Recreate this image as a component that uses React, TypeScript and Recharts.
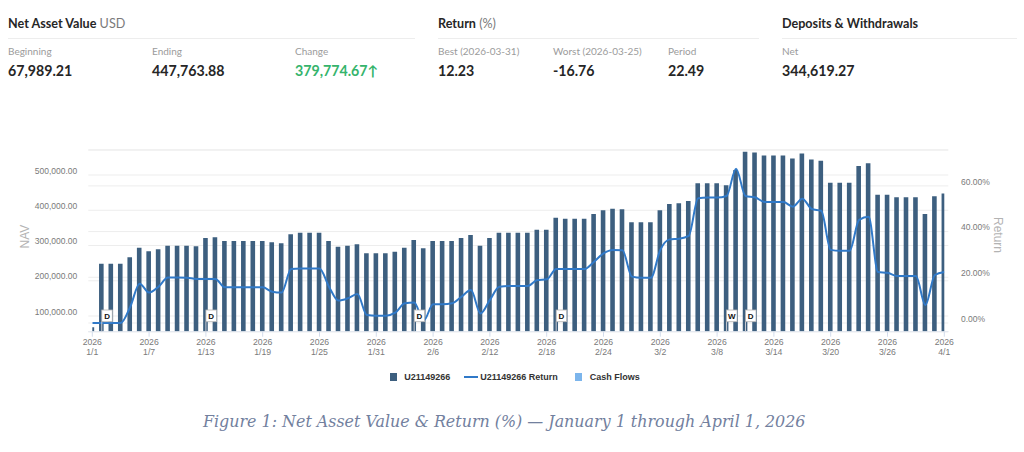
import React from 'react';
import { ComposedChart, Bar, Line, Scatter, XAxis, YAxis, CartesianGrid, Legend } from 'recharts';

const dates: string[] = [
  '1/1','1/2','1/3','1/4','1/5','1/6','1/7','1/8','1/9','1/10','1/11','1/12','1/13','1/14','1/15','1/16',
  '1/17','1/18','1/19','1/20','1/21','1/22','1/23','1/24','1/25','1/26','1/27','1/28','1/29','1/30','1/31',
  '2/1','2/2','2/3','2/4','2/5','2/6','2/7','2/8','2/9','2/10','2/11','2/12','2/13','2/14','2/15','2/16',
  '2/17','2/18','2/19','2/20','2/21','2/22','2/23','2/24','2/25','2/26','2/27','2/28',
  '3/1','3/2','3/3','3/4','3/5','3/6','3/7','3/8','3/9','3/10','3/11','3/12','3/13','3/14','3/15','3/16',
  '3/17','3/18','3/19','3/20','3/21','3/22','3/23','3/24','3/25','3/26','3/27','3/28','3/29','3/30','3/31','4/1',
];

const navValues: number[] = [
  67989.21, 248400, 248400, 248400, 266500, 293800, 283500, 289200, 299600, 299600,
  299600, 297700, 321300, 323200, 312800, 312800, 312800, 312800, 312800, 309000,
  306200, 331700, 336400, 336400, 336400, 312800, 296600, 299600, 303400, 277800,
  277800, 277800, 282500, 293800, 315600, 292000, 312800, 312800, 312800, 321300,
  329800, 299600, 321300, 336400, 336400, 336400, 336400, 344900, 344900, 378900,
  376100, 376100, 376100, 389400, 399800, 404500, 402600, 365700, 365700, 365700,
  399800, 417700, 419600, 426200, 476400, 476400, 476400, 470700, 514000, 566100,
  564200, 555700, 555700, 555700, 547200, 561400, 544400, 540600, 478300, 478300,
  478300, 525500, 533100, 444200, 444200, 436600, 436600, 436600, 389400, 439500,
  447763.88,
];

const returnValues: number[] = [
  0, 0, 0, 0, 7, 17.2, 13.3, 15.9, 19.9, 19.9,
  19.8, 19.3, 19.3, 19.3, 15.6, 15.6, 15.6, 15.6, 15.6, 13.7,
  13.3, 23.6, 23.9, 23.9, 23.9, 15.9, 9.8, 10.8, 12.7, 3.5,
  3.2, 3.2, 4.5, 8.6, 9.0, 1.0, 8.2, 8.2, 8.6, 11.5,
  14.4, 4.2, 10.1, 15.9, 16.2, 16.2, 16.2, 18.8, 19.1, 23.6,
  23.6, 23.6, 23.6, 26.8, 30.5, 32.0, 31.8, 20.3, 19.8, 19.8,
  32.0, 36.6, 36.9, 38.1, 54.6, 54.9, 54.9, 55.6, 67.5, 55.6,
  55.0, 53.0, 52.9, 52.9, 50.9, 54.4, 49.9, 49.1, 32.0, 31.6,
  31.6, 45.1, 46.5, 22.3, 22.0, 20.6, 20.6, 20.6, 7.9, 21.0,
  22.3,
];

const tickDates: string[] = ['1/1','1/7','1/13','1/19','1/25','1/31','2/6','2/12','2/18','2/24','3/2','3/8','3/14','3/20','3/26','4/1'];
const navTicks: number[] = [100000, 200000, 300000, 400000, 500000];
const returnTicks: number[] = [0, 20, 40, 60];

const flagDates: string[] = ['1/2', '1/13', '2/4', '2/19', '3/9', '3/11'];
const flagCodes: string[] = ['D', 'D', 'D', 'D', 'W', 'D'];

const legendNames: string[] = ['U21149266', 'U21149266 Return', 'Cash Flows'];

const NAV_COLOR = '#3d5f7f';
const LINE_COLOR = '#3079c8';
const FLOW_COLOR = '#7cb5ec';

const data = dates.map((d, i) => ({ x: i, date: d, nav: navValues[i], ret: returnValues[i] }));
const flagData = flagDates.map((d, i) => ({ x: dates.indexOf(d), y: 0, code: flagCodes[i] }));
const xTicks = tickDates.map((d) => dates.indexOf(d));

const tickFont = '"Liberation Sans", Arial, Helvetica, sans-serif';
const headFont = 'Lato, "Open Sans", sans-serif';

const LeftTick = (props: any) => {
  const { x, y, payload } = props;
  return (
    <text x={x} y={y - 1.3} textAnchor="end" fontSize={8.5} fill="#7a7a7a" fontFamily={tickFont}>
      {payload.value.toLocaleString('en-US', { minimumFractionDigits: 2, maximumFractionDigits: 2 })}
    </text>
  );
};

const RightTick = (props: any) => {
  const { x, y, payload } = props;
  return (
    <text x={x} y={y - 1.3} textAnchor="start" fontSize={8.5} fill="#7a7a7a" fontFamily={tickFont}>
      {payload.value.toFixed(2) + '%'}
    </text>
  );
};

const XTick = (props: any) => {
  const { x, y, payload } = props;
  return (
    <text x={x} y={y} textAnchor="middle" fontSize={8.7} fill="#7a7a7a" fontFamily={tickFont}>
      <tspan x={x} dy={7}>2026</tspan>
      <tspan x={x} dy={10.6}>{dates[payload.value]}</tspan>
    </text>
  );
};

const FlagShape = (props: any) => {
  const { cx, cy, payload } = props;
  const top = cy - 21.7;
  return (
    <g>
      <line x1={cx} y1={cy - 10} x2={cx} y2={cy} stroke="#c8ccd4" strokeWidth={1} />
      <rect x={cx} y={top} width={10.5} height={11.7} fill="#ffffff" stroke="#b4b4b4" strokeWidth={0.8} />
      <text x={cx + 5.25} y={top + 9} textAnchor="middle" fontSize={8} fontWeight="bold" fill="#111" fontFamily={tickFont}>
        {payload.code}
      </text>
    </g>
  );
};

const renderLegend = () => (
  <div
    style={{
      display: 'flex',
      justifyContent: 'center',
      alignItems: 'center',
      height: 14,
      paddingLeft: 0,
      fontFamily: tickFont,
      fontSize: 9,
      fontWeight: 'bold',
      color: '#333',
    }}
  >
    <div style={{ display: 'flex', alignItems: 'center', marginLeft: 6 }}>
      <span style={{ display: 'inline-block', width: 7, height: 7.5, background: NAV_COLOR, marginRight: 7 }} />
      <span>{legendNames[0]}</span>
    </div>
    <div style={{ display: 'flex', alignItems: 'center', marginLeft: 14 }}>
      <span style={{ display: 'inline-block', width: 13.5, height: 2, background: LINE_COLOR, marginRight: 2.5 }} />
      <span>{legendNames[1]}</span>
    </div>
    <div style={{ display: 'flex', alignItems: 'center', marginLeft: 17 }}>
      <span style={{ display: 'inline-block', width: 7.5, height: 7.5, background: FLOW_COLOR, marginRight: 7.5 }} />
      <span>{legendNames[2]}</span>
    </div>
  </div>
);

const Label = ({ text, left }: { text: string; left: number }) => (
  <div style={{ position: 'absolute', left, top: 44.5, fontFamily: headFont, fontSize: 10, lineHeight: '13px', color: '#9b9b9b', whiteSpace: 'nowrap' }}>
    {text}
  </div>
);

const Value = ({ text, left, color }: { text: string; left: number; color?: string }) => (
  <div
    style={{
      position: 'absolute',
      left,
      top: 60.5,
      fontFamily: headFont,
      fontSize: 14.2,
      fontWeight: 700,
      lineHeight: '19px',
      color: color || '#262626',
      whiteSpace: 'nowrap',
    }}
  >
    {text}
  </div>
);

const Title = ({ main, sub, left }: { main: string; sub?: string; left: number }) => (
  <div
    style={{
      position: 'absolute',
      left,
      top: 15,
      fontFamily: headFont,
      fontSize: 12.6,
      fontWeight: 700,
      lineHeight: '18px',
      color: '#262626',
      whiteSpace: 'nowrap',
    }}
  >
    {main}
    {sub ? <span style={{ fontWeight: 400, color: '#7a7a7a' }}>{' ' + sub}</span> : null}
  </div>
);

const Divider = ({ left, width }: { left: number; width: number }) => (
  <div style={{ position: 'absolute', left, top: 38, width, height: 1, background: '#ededed' }} />
);

export default function App() {
  return (
    <div style={{ position: 'absolute', left: 0, top: 0, width: 1024, height: 452, background: '#fff', overflow: 'hidden' }}>
      <Title main="Net Asset Value" sub="USD" left={8} />
      <Title main="Return" sub="(%)" left={438} />
      <Title main="Deposits & Withdrawals" left={782} />
      <Divider left={8} width={407} />
      <Divider left={438} width={321} />
      <Divider left={782} width={235} />

      <Label text="Beginning" left={8} />
      <Label text="Ending" left={152} />
      <Label text="Change" left={295} />
      <Label text="Best (2026-03-31)" left={438} />
      <Label text="Worst (2026-03-25)" left={553} />
      <Label text="Period" left={668} />
      <Label text="Net" left={782} />

      <Value text="67,989.21" left={8} />
      <Value text="447,763.88" left={152} />
      <Value text={'379,774.67\u2191'} left={295} color="#35b46c" />
      <Value text="12.23" left={438} />
      <Value text="-16.76" left={553} />
      <Value text="22.49" left={668} />
      <Value text="344,619.27" left={782} />

      <div style={{ position: 'absolute', left: 0, top: 0 }}>
        <ComposedChart
          width={1024}
          height={452}
          data={data}
          margin={{ top: 150, right: 5.7, bottom: 90.3, left: 8.3 }}
        >
          <CartesianGrid yAxisId="nav" vertical={false} stroke="#ededed" />
          <CartesianGrid yAxisId="ret" vertical={false} stroke="#ededed" />
          <XAxis
            dataKey="x"
            type="number"
            domain={[0, dates.length - 1]}
            ticks={xTicks}
            interval={0}
            padding={{ left: 4, right: 4 }}
            height={30}
            tickSize={5}
            tickMargin={1}
            tick={<XTick />}
            axisLine={{ stroke: '#e3e8f0' }}
            tickLine={{ stroke: '#d3dcec' }}
            allowDataOverflow
          />
          <YAxis
            yAxisId="nav"
            orientation="left"
            width={80}
            domain={[55500, 571000]}
            ticks={navTicks}
            allowDataOverflow
            axisLine={false}
            tickLine={false}
            tickSize={0}
            tickMargin={11}
            tick={<LeftTick />}
            label={{
              content: () => (
                <text
                  x={25}
                  y={236.5}
                  transform="rotate(-90 25 236.5)"
                  textAnchor="middle"
                  dominantBaseline="central"
                  fontSize={12}
                  fill="#b3b3b3"
                  fontFamily={tickFont}
                >
                  NAV
                </text>
              ),
            }}
          />
          <YAxis
            yAxisId="ret"
            orientation="right"
            width={70}
            domain={[-3.81, 75.71]}
            ticks={returnTicks}
            allowDataOverflow
            axisLine={false}
            tickLine={false}
            tickSize={0}
            tickMargin={12.7}
            tick={<RightTick />}
            label={{
              content: () => (
                <text
                  x={998}
                  y={235}
                  transform="rotate(90 998 235)"
                  textAnchor="middle"
                  dominantBaseline="central"
                  fontSize={12}
                  fill="#b3b3b3"
                  fontFamily={tickFont}
                >
                  Return
                </text>
              ),
            }}
          />
          <YAxis yAxisId="flag" orientation="right" hide width={0} domain={[0, 1]} />
          <Bar yAxisId="nav" dataKey="nav" name={legendNames[0]} fill={NAV_COLOR} barSize={4.6} isAnimationActive={false} />
          <Line
            yAxisId="ret"
            dataKey="ret"
            name={legendNames[1]}
            type="monotone"
            stroke={LINE_COLOR}
            strokeWidth={2}
            dot={false}
            activeDot={false}
            isAnimationActive={false}
          />
          <Scatter
            yAxisId="flag"
            data={flagData}
            dataKey="y"
            name={legendNames[2]}
            fill={FLOW_COLOR}
            shape={<FlagShape />}
            isAnimationActive={false}
          />
          <Legend
            layout="horizontal"
            verticalAlign="middle"
            align="center"
            wrapperStyle={{ top: 370, left: 0, width: 1024, height: 14 }}
            content={renderLegend}
          />
        </ComposedChart>
      </div>

      <div
        style={{
          position: 'absolute',
          left: 203,
          top: 411,
          fontFamily: '"DejaVu Serif", Georgia, serif',
          fontStyle: 'italic',
          fontSize: 15.9,
          lineHeight: '22px',
          color: '#72809e',
          whiteSpace: 'nowrap',
        }}
      >
        Figure 1: Net Asset Value &amp; Return (%) — January 1 through April 1, 2026
      </div>
    </div>
  );
}
